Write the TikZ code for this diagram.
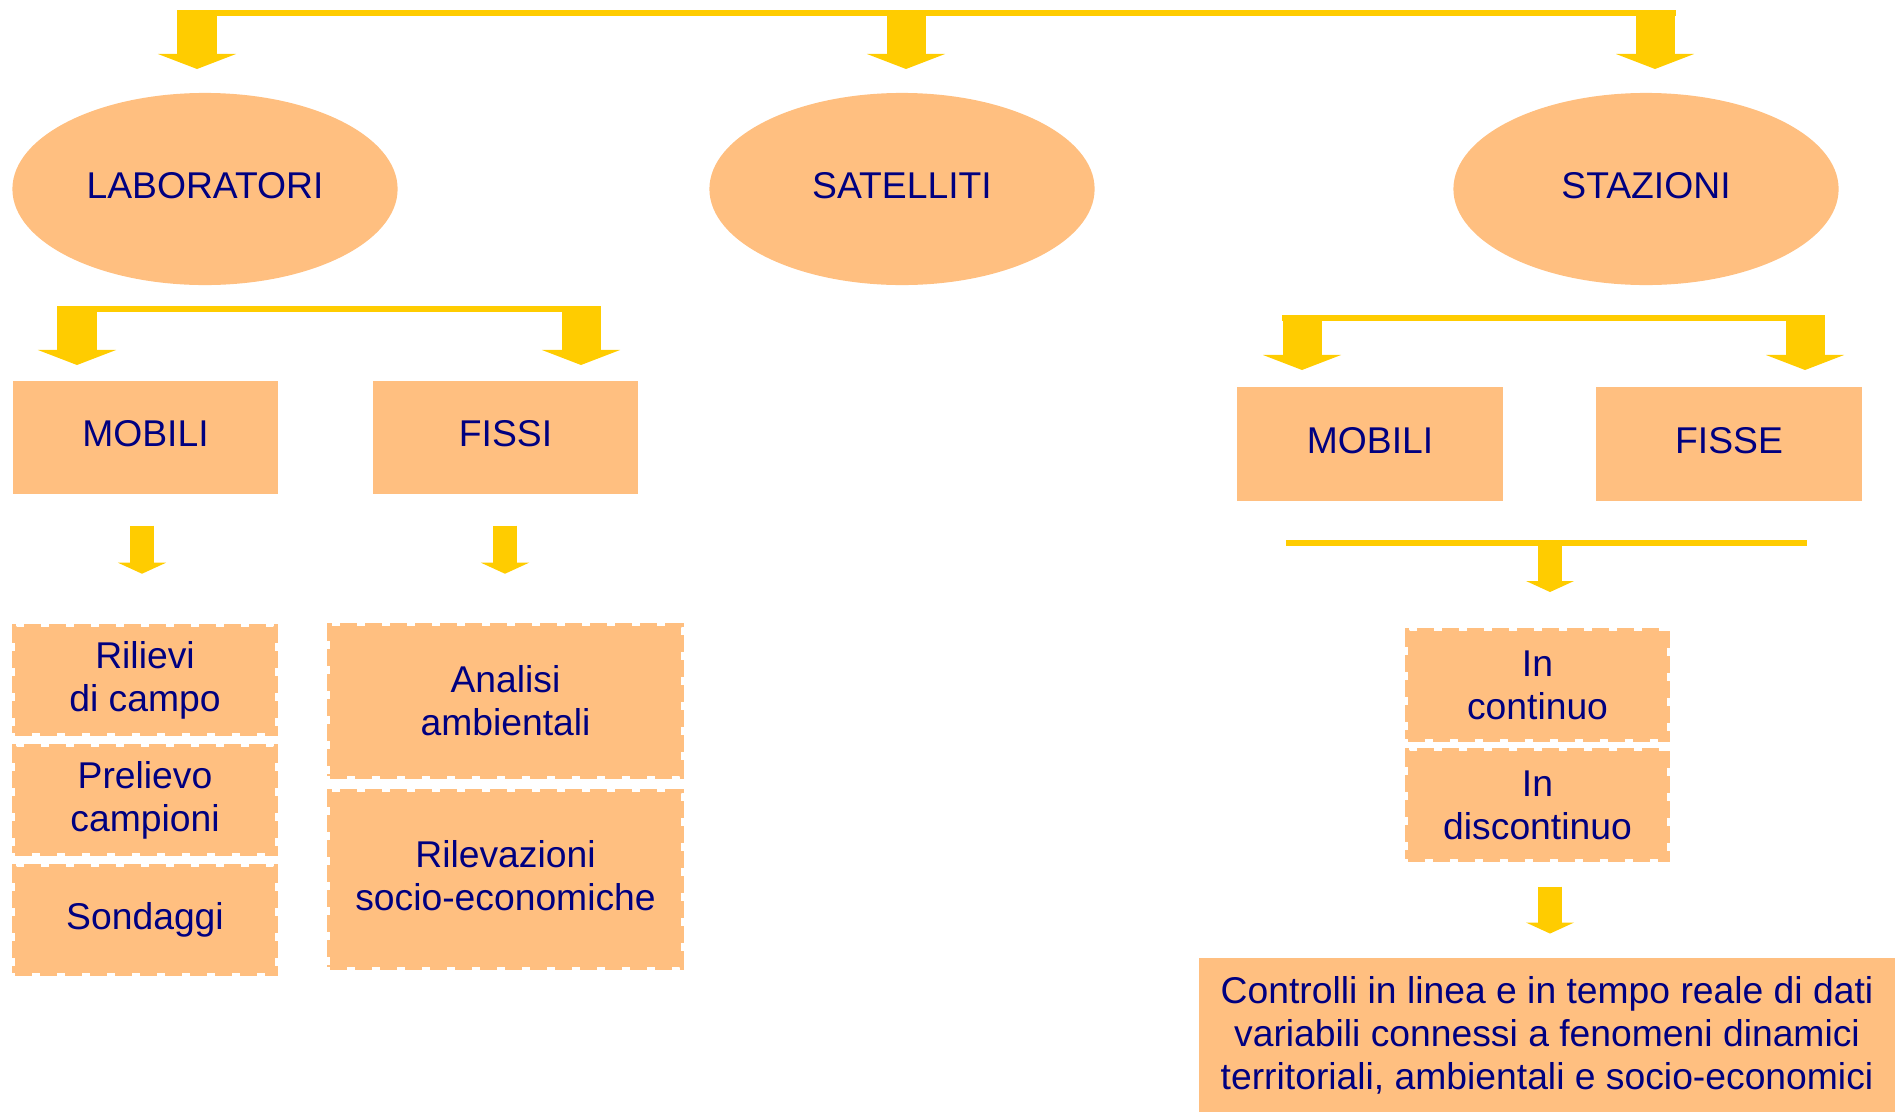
\documentclass[tikz,border=0pt]{standalone}
\usepackage{fontspec}
\setmainfont{Liberation Sans}
\usetikzlibrary{arrows.meta, shapes.geometric}
\definecolor{boxfill}{RGB}{255,191,128}
\definecolor{boxtext}{RGB}{0,0,128}
\definecolor{arrowyellow}{RGB}{255,204,0}
\tikzset{%
	every bubble/.style={
		ellipse,
		fill=boxfill,
		text=boxtext,
		minimum width=3.85cm,
		minimum height=1.92cm,
		inner sep=0pt,
		text depth=0.08cm
	},
	every block/.style={
		rectangle,
		fill=boxfill,
		text=boxtext,
		align=center,
		inner sep=0pt
	},
	block plain/.style={
		minimum width=2.65cm,
		minimum height=1.13cm,
		text depth=0.08cm
	},
	block dashed/.style={
		draw=boxfill,
		line width=0.05cm,
		dash pattern=on 0.17cm off 0.08cm
	},
	bar/.style={
		draw=arrowyellow,
		line width=0.06cm
	},
	big arrow/.style={
		draw=arrowyellow,
		line width=0.39cm,
		-{Triangle[width=0.78cm, length=0.15cm, line width=0pt]}
	},
	small arrow/.style={
		draw=arrowyellow,
		line width=0.24cm,
		-{Triangle[width=0.48cm, length=0.11cm, line width=0pt]}
	},
}
\begin{document}
\begin{tikzpicture}[x=0.01cm, y=-0.01cm, font=\fontsize{10.6}{12.2}\selectfont]
	\useasboundingbox (0,0) rectangle (1895,1112);
	
	% top level
	\foreach \n/\l/\x in {lab/LABORATORI/205, sat/SATELLITI/902, sta/STAZIONI/1646}
	\node [every bubble] (\n) at (\x,189) {\l};
	
	\coordinate (top-l) at (178,13);
	\coordinate (top-r) at (1676,13);
	\draw [bar] (top-l) -- (top-r);
	\foreach \x in {197,906,1655}
	\draw [big arrow] (\x,10) -- (\x,69);
	
	% laboratori
	\node [every block, block plain] (lab-mob) at (145.5,437.5) {MOBILI};
	\node [every block, block plain] (lab-fix) at (505.5,437.5) {FISSI};
	
	\coordinate (lab-l) at (58,309);
	\coordinate (lab-r) at (600,309);
	\draw [bar] (lab-l) -- (lab-r);
	\foreach \x in {77,581}
	\draw [big arrow] (\x,306) -- (\x,365);
	
	\draw [small arrow] (lab-mob.south) ++(-3.5,31) -- ++(0,48);
	\draw [small arrow] (lab-fix.south) ++(-0.5,31) -- ++(0,48);
	
	\foreach \t [count=\i] in {{Rilievi\\di campo}, {Prelievo\\campioni}, Sondaggi}
	\node [every block, block dashed, minimum width=2.6cm, minimum height=1.06cm] (lab-mob-\i) at (145,560+\i*120) {\t};
	
	\node [every block, block dashed, minimum width=3.51cm, minimum height=1.5cm] (lab-fix-1) at (505.5,701) {Analisi\\ambientali};
	\node [every block, block dashed, minimum width=3.51cm, minimum height=1.75cm, text depth=0.08cm] (lab-fix-2) at (505.5,879.5) {Rilevazioni\\socio-economiche};
	
	% stazioni
	\node [every block, block plain] (sta-mob) at (1370,444) {MOBILI};
	\node [every block, block plain] (sta-fix) at (1729,444) {FISSE};
	
	\coordinate (sta-l) at (1282,318);
	\coordinate (sta-r) at (1805,318);
	\draw [bar] (sta-l) -- (sta-r);
	\foreach \x in {1302,1805}
	\draw [big arrow] (\x,315) -- (\x,370);
	
	\coordinate (join-l) at (1286,543);
	\coordinate (join-r) at (1807,543);
	\draw [bar] (join-l) -- (join-r);
	\draw [small arrow] (1550,546) -- (1550,592);
	
	\foreach \t [count=\i] in {{In\\continuo}, {In\\discontinuo}}
	\node [every block, block dashed, minimum width=2.59cm, minimum height=1.08cm] (sta-run-\i) at (1537.5,565+\i*120) {\t};
	
	\node [every block, minimum width=6.96cm, minimum height=1.54cm] (controlli) at (1547,1035) {Controlli in linea e in tempo reale di dati\\variabili connessi a fenomeni dinamici\\territoriali, ambientali e socio-economici};
	
	\draw [small arrow] (sta-run-2.south) ++(12.5,25) -- ++(0,47);
	
\end{tikzpicture}
\end{document}
